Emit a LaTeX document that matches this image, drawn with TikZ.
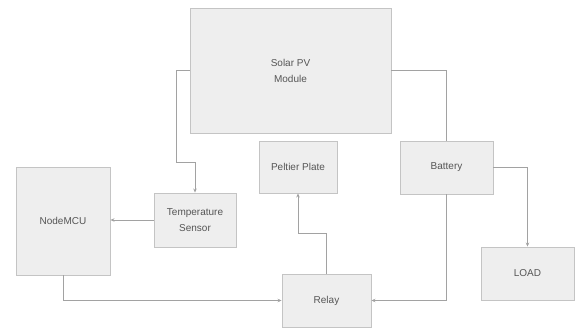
\documentclass[tikz,border=0pt]{standalone}
\usepackage{fontspec}
\setmainfont{Liberation Sans}
\usetikzlibrary{arrows.meta}
\definecolor{boxfill}{HTML}{EEEEEE}
\definecolor{boxline}{HTML}{C4C4C4}
\definecolor{wire}{HTML}{A2A2A2}
\definecolor{txt}{HTML}{555555}
\tikzset{
  blk/.style={draw=boxline, fill=boxfill, line width=0.9pt, inner sep=0pt,
    align=center, text=txt, font=\fontsize{10}{16}\selectfont},
  wireline/.style={draw=wire, line width=0.8pt},
  arr/.style={wireline, -{Stealth[length=4pt,width=3.5pt]}}
}
\begin{document}
\begin{tikzpicture}[x=1pt,y=-1pt]
\useasboundingbox (0,0) rectangle (576,329);
\node[blk, minimum width=201pt, minimum height=125pt] (solar) at (290.5,70.5) {Solar PV\\Module};
\node[blk, minimum width=78pt, minimum height=52pt] (peltier) at (298,167) {Peltier Plate};
\node[blk, minimum width=93pt, minimum height=53pt] (battery) at (446.5,167.5) {Battery};
\node[blk, minimum width=94pt, minimum height=108pt] (mcu) at (63,221) {NodeMCU};
\node[blk, minimum width=82pt, minimum height=54pt] (temp) at (195,220) {Temperature\\Sensor};
\node[blk, minimum width=89pt, minimum height=53pt] (relay) at (326.5,300.5) {Relay};
\node[blk, minimum width=93pt, minimum height=53pt] (load) at (527.5,273.5) {LOAD};

\draw[arr] (solar.west) -- ++(-13,0) |- ([yshift=30pt]temp.north) -- (temp.north);
\draw[wireline] (solar.east) -| (battery.north);
\draw[arr] (temp.west) -- (temp.west -| mcu.east);
\draw[arr] (mcu.south) |- (relay.west);
\draw[arr] (relay.north) -- ([yshift=40pt]relay.north) -| (peltier.south);
\draw[arr] (battery.south) |- (relay.east);
\draw[arr] (battery.east) -| (load.north);
\end{tikzpicture}
\end{document}
